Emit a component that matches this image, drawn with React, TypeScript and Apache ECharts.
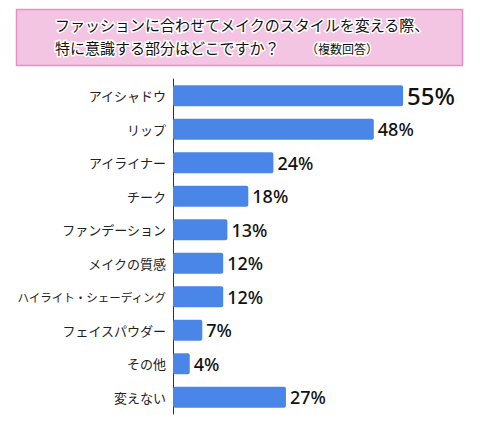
import React, { useEffect, useRef } from "react";
import * as echarts from "echarts";

const categories = [
  "アイシャドウ",
  "リップ",
  "アイライナー",
  "チーク",
  "ファンデーション",
  "メイクの質感",
  "ハイライト・シェーディング",
  "フェイスパウダー",
  "その他",
  "変えない",
];
const values = [55, 48, 24, 18, 13, 12, 12, 7, 4, 27];
const titleLine1 = "ファッションに合わせてメイクのスタイルを変える際、";
const titleLine2 = "特に意識する部分はどこですか？";
const titleNote = "（複数回答）";

const JP = "'Noto Sans CJK JP', 'Noto Sans', sans-serif";

export default function App() {
  const ref = useRef<HTMLDivElement>(null);
  useEffect(() => {
    document.body.style.margin = "0";
    const chart = echarts.init(ref.current!, undefined, { renderer: "svg" });
    chart.setOption({
      animation: false,
      backgroundColor: "#ffffff",
      grid: { left: 173, top: 79, width: 251, height: 335, containLabel: false },
      xAxis: {
        type: "value",
        min: 0,
        max: 60,
        show: false,
      },
      yAxis: {
        type: "category",
        data: categories,
        inverse: true,
        axisLine: { show: true, lineStyle: { color: "#333333", width: 1 } },
        axisTick: { show: false },
        axisLabel: {
          margin: 7,
          color: "#222222",
          fontSize: 13,
          fontFamily: JP,
          formatter: (v: string) => (v.length > 10 ? "{s|" + v + "}" : v),
          rich: { s: { fontSize: 11.5, fontFamily: JP, color: "#222222" } },
        },
      },
      series: [
        {
          type: "bar",
          data: values.map((v, i) => ({
            value: v,
            label: i === 0 ? { fontSize: 24 } : undefined,
          })),
          barWidth: 21,
          itemStyle: { color: "#4a86e8", borderRadius: 2 },
          label: {
            show: true,
            position: "right",
            distance: 4,
            formatter: "{c}%",
            color: "#111111",
            fontSize: 18,
            fontWeight: 500,
            fontFamily: "'Noto Sans', sans-serif",
          },
        },
      ],
      graphic: [
        {
          type: "rect",
          shape: { x: 16.5, y: 9.5, width: 446, height: 56 },
          style: { fill: "#f3c5e2", stroke: "#e890c3", lineWidth: 1.5 },
        },
        {
          type: "text",
          x: 55,
          y: 24,
          style: {
            text: titleLine1,
            fontSize: 15,
            fontFamily: JP,
            fill: "#111111",
            stroke: "#ffffff",
            lineWidth: 3,
            textVerticalAlign: "middle",
            verticalAlign: "middle",
          },
        },
        {
          type: "text",
          x: 55,
          y: 47,
          style: {
            text: titleLine2,
            fontSize: 15,
            fontFamily: JP,
            fill: "#111111",
            stroke: "#ffffff",
            lineWidth: 3,
            verticalAlign: "middle",
          },
        },
        {
          type: "text",
          x: 306,
          y: 48,
          style: {
            text: titleNote,
            fontSize: 12,
            fontFamily: JP,
            fill: "#111111",
            stroke: "#ffffff",
            lineWidth: 3,
            verticalAlign: "middle",
          },
        },
      ],
    });
    return () => chart.dispose();
  }, []);
  return <div ref={ref} style={{ width: 480, height: 431 }} />;
}
